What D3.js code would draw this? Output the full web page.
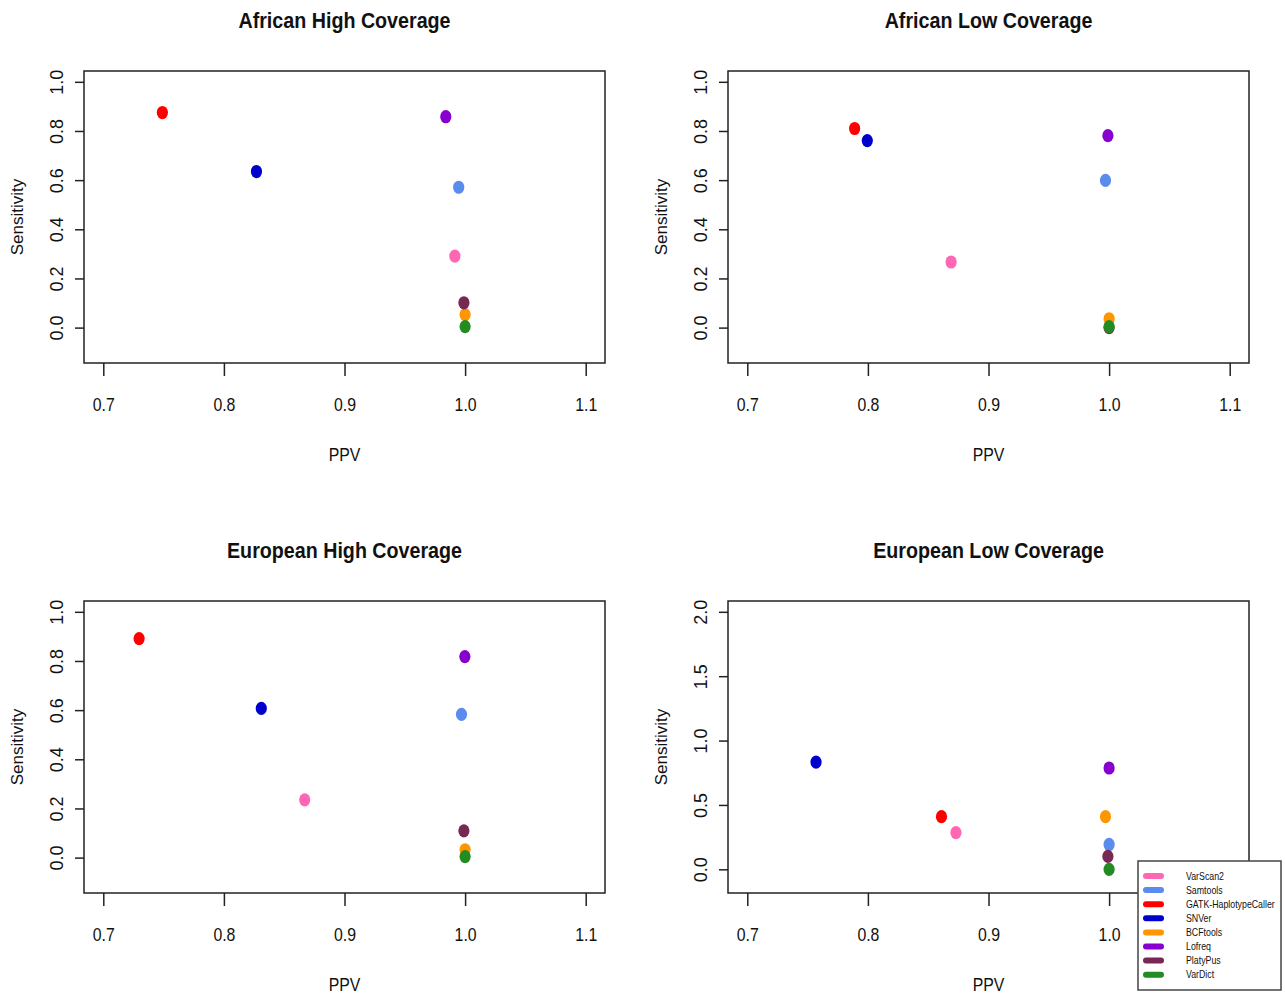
<!DOCTYPE html>
<html lang="en">
  <head>
    <meta charset="UTF-8" />
    <script src="https://d3js.org/d3.v7.min.js"></script>
    <title>Sensitivity vs PPV</title>
    <style>
      body { margin: 0; background: #fff; }
      text { font-family: "Liberation Sans", Arial, sans-serif; fill: #111; }
    </style>
  </head>
  <body>
    <svg id="chart" width="1285" height="999"></svg>

    <script>
      // tools, in legend (and drawing) order
      const tools = ["VarScan2", "Samtools", "GATK-HaplotypeCaller", "SNVer", "BCFtools", "Lofreq", "PlatyPus", "VarDict"];
      const toolColors = ["#ff66b3", "#5a8cee", "#ff0000", "#0000cd", "#ff9600", "#8800d0", "#772953", "#228b22"];

      const panelTitles = ["African High Coverage", "African Low Coverage", "European High Coverage", "European Low Coverage"];
      const xTicks = [0.7, 0.8, 0.9, 1.0, 1.1];
      const yTicksSmall = [0.0, 0.2, 0.4, 0.6, 0.8, 1.0];
      const yTicksLarge = [0.0, 0.5, 1.0, 1.5, 2.0];
      const yMax = [1.0, 1.0, 1.0, 2.0];

      // PPV (x) and Sensitivity (y) per panel, same order as tools
      const afrHighPPV  = [0.9915, 0.9947, 0.749, 0.827, 1.0, 0.984, 0.999, 1.0];
      const afrHighSens = [0.291, 0.571, 0.875, 0.635, 0.053, 0.858, 0.101, 0.004];
      const afrLowPPV   = [0.869, 0.997, 0.789, 0.7995, 1.0, 0.999, 1.0, 1.0];
      const afrLowSens  = [0.267, 0.599, 0.81, 0.761, 0.036, 0.781, 0.0, 0.004];
      const eurHighPPV  = [0.867, 0.997, 0.7297, 0.831, 1.0, 0.9998, 0.999, 1.0];
      const eurHighSens = [0.235, 0.583, 0.891, 0.607, 0.032, 0.818, 0.109, 0.004];
      const eurLowPPV   = [0.873, 1.0, 0.861, 0.757, 0.997, 1.0, 0.999, 1.0];
      const eurLowSens  = [0.285, 0.193, 0.409, 0.833, 0.409, 0.787, 0.10, 0.0];

      const panelPPV = [afrHighPPV, afrLowPPV, eurHighPPV, eurLowPPV];
      const panelSens = [afrHighSens, afrLowSens, eurHighSens, eurLowSens];

      const svg = d3.select("#chart");
      svg.append("rect").attr("width", 1285).attr("height", 999).attr("fill", "#fff");

      const boxW = 521, boxH = 292;
      const lefts = [84, 728, 84, 728];
      const tops = [71, 71, 601, 601];
      const sx = 0.88; // text looks horizontally squeezed

      panelTitles.forEach((title, p) => {
        const g = svg.append("g").attr("transform", `translate(${lefts[p]},${tops[p]})`);

        // R style 4% expansion of the limits
        const xPad = (1.1 - 0.7) * 0.04;
        const x = d3.scaleLinear().domain([0.7 - xPad, 1.1 + xPad]).range([0, boxW]);
        const yLo = -0.1, yHi = yMax[p];
        const yPad = (yHi - yLo) * 0.04;
        const y = d3.scaleLinear().domain([yLo - yPad, yHi + yPad]).range([boxH, 0]);

        // x axis
        const xAxis = g.append("g")
          .attr("transform", `translate(0,${boxH})`)
          .call(d3.axisBottom(x).tickValues(xTicks).tickSize(13).tickPadding(22).tickSizeOuter(0).tickFormat(d3.format(".1f")));
        xAxis.select(".domain").remove();
        xAxis.selectAll("line").attr("stroke", "#222").attr("stroke-width", 1.5);
        xAxis.selectAll("text")
          .attr("font-size", 18).attr("fill", "#111")
          .attr("font-family", "Liberation Sans, Arial, sans-serif")
          .attr("transform", `scale(${sx},1)`);

        // y axis
        const yAxis = g.append("g")
          .call(d3.axisLeft(y).tickValues(p === 3 ? yTicksLarge : yTicksSmall).tickSize(9).tickSizeOuter(0).tickFormat(d3.format(".1f")));
        yAxis.select(".domain").remove();
        yAxis.selectAll("line").attr("stroke", "#222").attr("stroke-width", 1.5);
        yAxis.selectAll("text")
          .attr("font-size", 18).attr("fill", "#111")
          .attr("font-family", "Liberation Sans, Arial, sans-serif")
          .attr("transform", "rotate(-90)")
          .attr("x", 0).attr("y", -21).attr("dy", 0)
          .attr("text-anchor", "middle");

        // plot box
        g.append("rect")
          .attr("width", boxW).attr("height", boxH)
          .attr("fill", "none").attr("stroke", "#222").attr("stroke-width", 1.5);

        // points
        g.selectAll("ellipse")
          .data(tools)
          .enter()
          .append("ellipse")
          .attr("cx", (d, i) => x(panelPPV[p][i]))
          .attr("cy", (d, i) => y(panelSens[p][i]))
          .attr("rx", 5.6)
          .attr("ry", 6.6)
          .attr("fill", (d, i) => toolColors[i]);

        // labels
        g.append("text")
          .attr("transform", `translate(${boxW / 2},-43) scale(0.895,1)`)
          .attr("text-anchor", "middle")
          .attr("font-size", 22).attr("font-weight", "bold")
          .text(title);

        g.append("text")
          .attr("transform", `translate(${boxW / 2},${boxH + 98}) scale(${sx},1)`)
          .attr("text-anchor", "middle")
          .attr("font-size", 18)
          .text("PPV");

        g.append("text")
          .attr("transform", `translate(-61,${boxH / 2}) rotate(-90)`)
          .attr("text-anchor", "middle")
          .attr("font-size", 17)
          .text("Sensitivity");
      });

      // legend
      const legend = svg.append("g").attr("transform", "translate(1138,861)");
      legend.append("rect")
        .attr("width", 143).attr("height", 129)
        .attr("fill", "#fff").attr("stroke", "#444").attr("stroke-width", 1.5);

      const rows = legend.selectAll("g.row")
        .data(tools)
        .enter()
        .append("g")
        .attr("class", "row")
        .attr("transform", (d, i) => `translate(0,${15 + i * 14.1})`);

      rows.append("line")
        .attr("x1", 8).attr("x2", 23)
        .attr("stroke", (d, i) => toolColors[i])
        .attr("stroke-width", 6)
        .attr("stroke-linecap", "round");

      rows.append("text")
        .attr("transform", `translate(48,3.5) scale(${sx},1)`)
        .attr("font-size", 10)
        .attr("fill", "#333")
        .text(d => d);
    </script>
  </body>
</html>
